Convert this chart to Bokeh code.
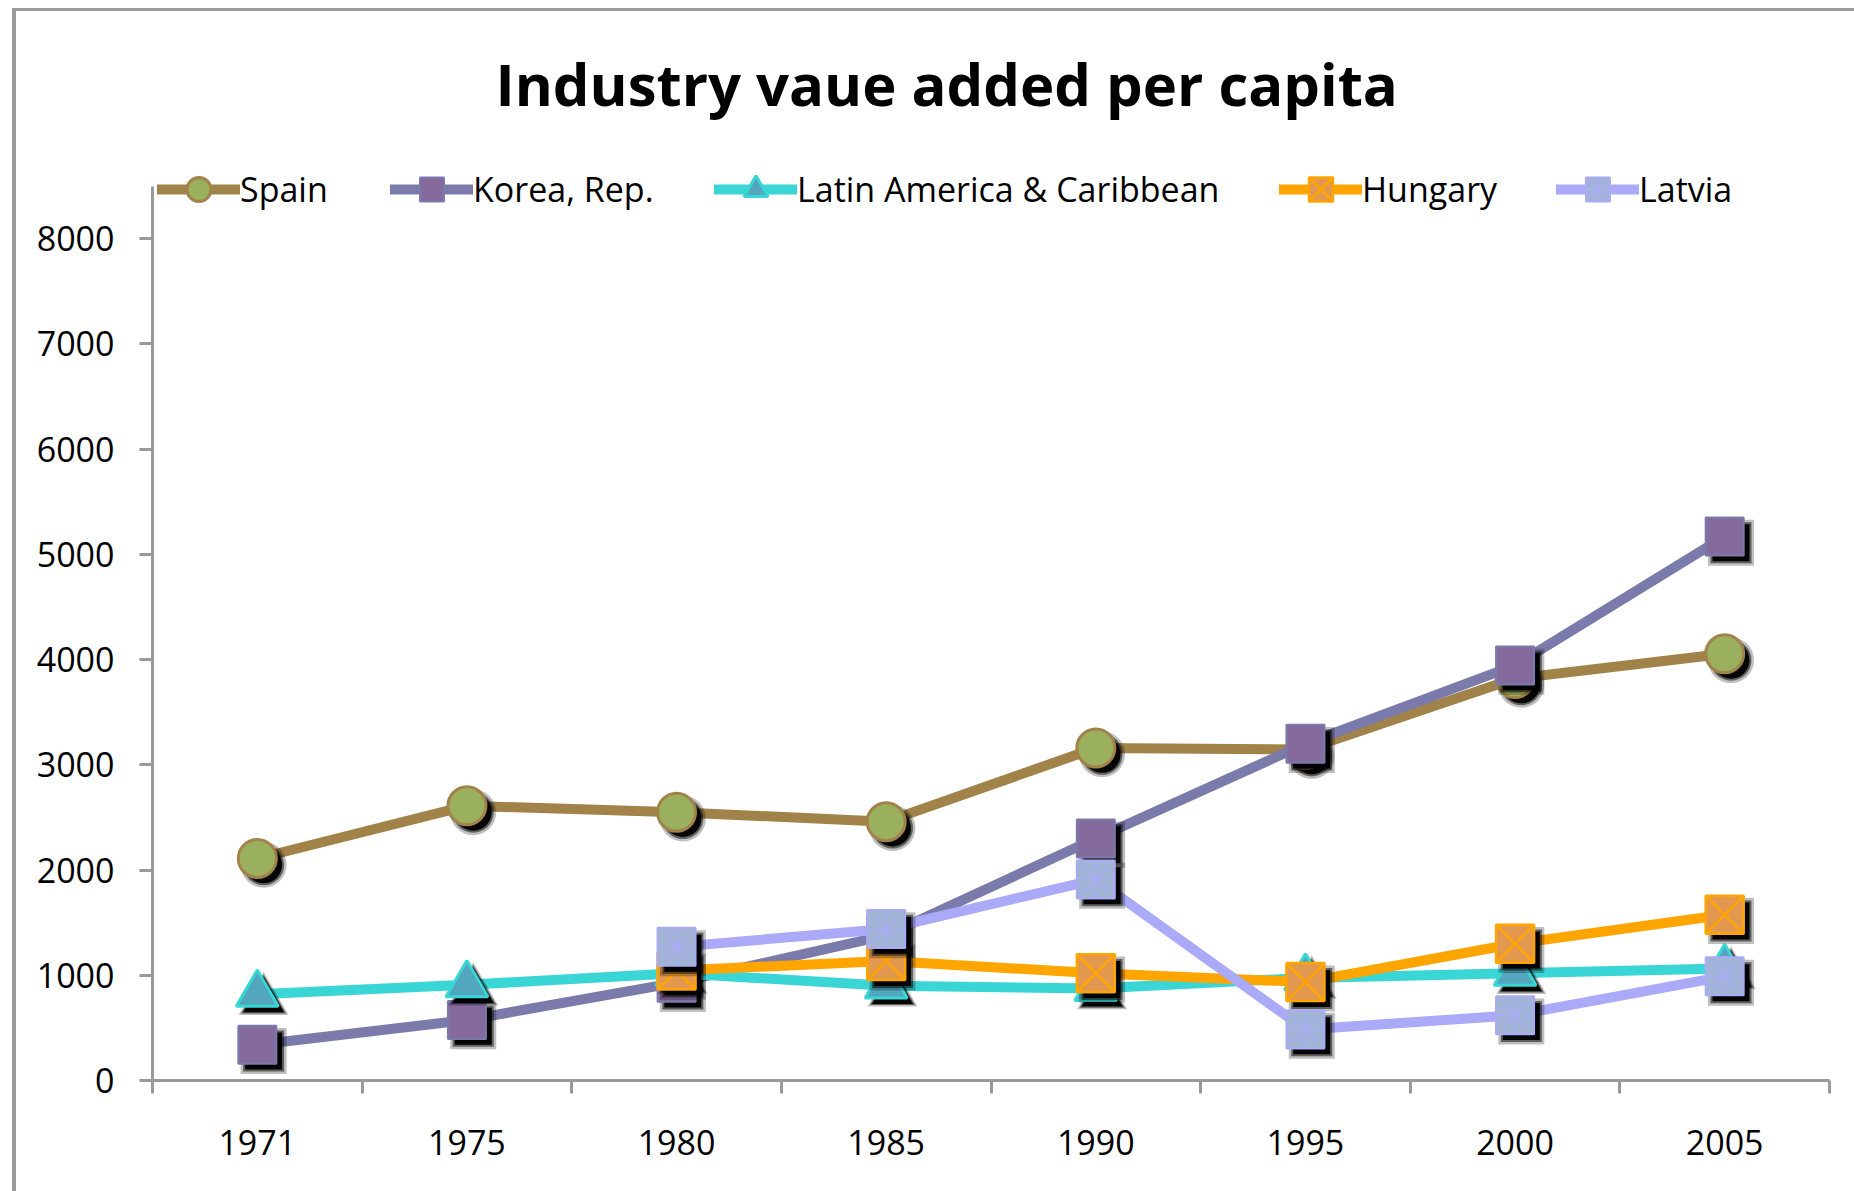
from bokeh.plotting import figure
from bokeh.models import (FactorRange, Range1d, LinearAxis, CategoricalAxis, FixedTicker,
                          Legend, LegendItem, Title)
from bokeh.embed import file_html
from bokeh.resources import INLINE

nan = float("nan")

# ---- data ----
years = ["1971", "1975", "1980", "1985", "1990", "1995", "2000", "2005"]
spain = [2110, 2610, 2550, 2460, 3160, 3145, 3820, 4055]
korea = [340, 575, 930, 1380, 2300, 3200, 3945, 5170]
latam = [820, 910, 1020, 900, 875, 975, 1020, 1065]
hungary = [nan, nan, 1045, 1135, 1020, 935, 1300, 1575]
latvia = [nan, nan, 1270, 1440, 1910, 485, 620, 990]
y_ticks = [0, 1000, 2000, 3000, 4000, 5000, 6000, 7000, 8000]
series_names = ["Spain", "Korea, Rep.", "Latin America & Caribbean", "Hungary", "Latvia"]
title_text = "Industry vaue added per capita"

FONT = "Open Sans"
AXIS_GRAY = "#9A9A9A"

p = figure(x_range=FactorRange(*years), y_range=Range1d(0, 9000),
           frame_width=1677, frame_height=947,
           min_border_left=136, min_border_top=122, min_border_right=25, min_border_bottom=111,
           output_backend="svg", toolbar_location=None,
           x_axis_location=None, y_axis_location=None, margin=(8, 0, 0, 12))
p.styles = {"border-left": "4px solid #9B9B9B", "border-top": "3px solid #9B9B9B"}
p.outline_line_color = None
p.xgrid.visible = False
p.ygrid.visible = False
p.background_fill_color = "white"
p.border_fill_color = "white"

p.title = Title(text=title_text, align="left", text_font=FONT, text_font_style="bold",
                text_font_size="58px", text_color="black", standoff=22, offset=343)

yax = LinearAxis(ticker=FixedTicker(ticks=y_ticks), bounds=(0, 8500),
                 axis_line_color=AXIS_GRAY, axis_line_width=3,
                 major_tick_line_color=AXIS_GRAY, major_tick_line_width=3,
                 major_tick_out=13, major_tick_in=0, minor_tick_line_color=None,
                 major_label_text_font=FONT, major_label_text_font_size="34px",
                 major_label_text_color="black", major_label_standoff=25)
p.add_layout(yax, "left")

# category boundary ticks (synthetic coordinates 0..n of the factor range)
tax = LinearAxis(ticker=FixedTicker(ticks=list(range(len(years) + 1))),
                 axis_line_color=AXIS_GRAY, axis_line_width=3,
                 major_tick_line_color=AXIS_GRAY, major_tick_line_width=3,
                 major_tick_out=13, major_tick_in=0, minor_tick_line_color=None,
                 major_label_text_font_size="1px", major_label_text_color=None,
                 major_label_standoff=0)
p.add_layout(tax, "below")
cax = CategoricalAxis(axis_line_color=None, major_tick_line_color=None,
                      minor_tick_line_color=None,
                      major_label_text_font=FONT, major_label_text_font_size="34px",
                      major_label_text_color="black", major_label_standoff=30)
p.add_layout(cax, "below")

styles = [
    dict(line="#A18248", marker="circle", size=38, fill="#9BB05E", mline="#A18248", mw=3),
    dict(line="#7A7BAA", marker="square", size=38, fill="#856A9E", mline="#7A7BAA", mw=2),
    dict(line="#3AD5D5", marker="triangle", size=42, fill="#52A6BD", mline="#3AD5D5", mw=3),
    dict(line="#FFA500", marker="square_x", size=38, fill="#E2994F", mline="#FFA500", mw=2.5),
    dict(line="#AAAAF8", marker="square", size=38, fill="#A2B4D6", mline="#AAAAF8", mw=2),
]
data = [spain, korea, latam, hungary, latvia]

dx = 0.03    # shadow offset in category units
dy = 60      # shadow offset in data units

legend_x = [5, 238, 562, 1127, 1404]
for i, (name, vals, st) in enumerate(zip(series_names, data, styles)):
    lr = p.line(years, vals, line_color=st["line"], line_width=10,
                line_join="round", line_cap="round")
    sx = [(y, dx) for y in years]
    sy = [v - dy for v in vals]
    shadow_marker = st["marker"] if st["marker"] != "square_x" else "square"
    p.scatter(sx, sy, marker=shadow_marker,
              size=st["size"] + 8, fill_color="black", line_color=None, fill_alpha=0.25)
    p.scatter(sx, sy, marker=shadow_marker,
              size=st["size"] + 3, fill_color="black", line_color=None, fill_alpha=0.5)
    p.scatter(sx, sy, marker=shadow_marker,
              size=st["size"] - 1, fill_color="black", line_color=None, fill_alpha=0.95)
    mr = p.scatter(years, vals, marker=st["marker"], size=st["size"], fill_color=st["fill"],
                   line_color=st["mline"], line_width=st["mw"])
    rends = [lr, mr]
    if name == "Latvia":
        ar = p.scatter(years, vals, marker="asterisk", size=st["size"] - 4,
                       line_color=st["mline"], line_width=1.5)
        rends.append(ar)
    leg = Legend(items=[LegendItem(label=name, renderers=rends)],
                 location=(legend_x[i], 861), orientation="horizontal",
                 glyph_width=83, glyph_height=60, label_standoff=0,
                 label_text_font=FONT, label_text_font_size="34px", label_text_color="black",
                 padding=0, margin=0, spacing=0,
                 background_fill_alpha=0, border_line_color=None)
    p.add_layout(leg, "center")

open("out.html", "w").write(file_html(p, INLINE))
